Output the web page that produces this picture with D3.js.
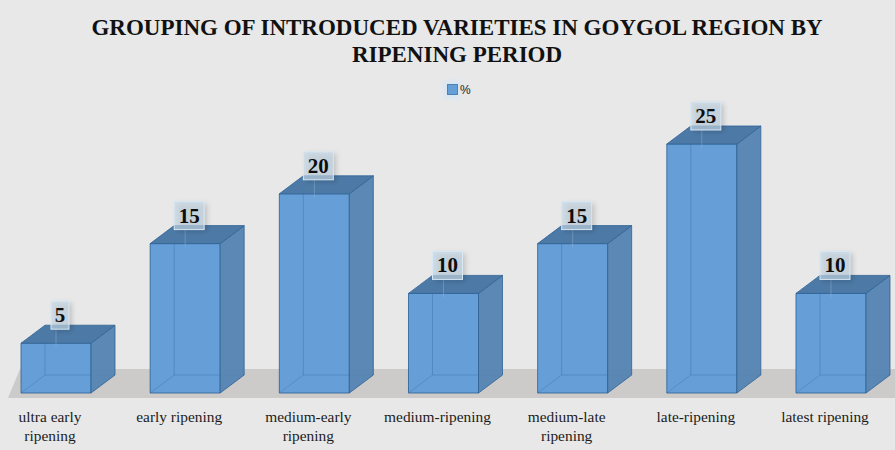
<!DOCTYPE html>
<html><head><meta charset="utf-8">
<script src="https://cdn.jsdelivr.net/npm/d3@7"></script>
<style>html,body{margin:0;padding:0;background:#e8e8e8}svg{display:block}text{font-family:"Liberation Serif",serif}</style>
</head><body><div id="c"></div>
<script>
const categories=["ultra early ripening","early ripening","medium-early ripening","medium-ripening","medium-late ripening","late-ripening","latest ripening"];
const labelLines=[["ultra early","ripening"],["early ripening"],["medium-early","ripening"],["medium-ripening"],["medium-late","ripening"],["late-ripening"],["latest ripening"]];
const values=[5,15,20,10,15,25,10];
const titleLines=["GROUPING OF INTRODUCED VARIETIES IN GOYGOL REGION BY","RIPENING PERIOD"];
const seriesName="%";

const W=895,H=450,dx=24,dy=18;
const svg=d3.select("#c").append("svg").attr("width",W).attr("height",H);
const defs=svg.append("defs");
const blur=defs.append("filter").attr("id","soft").attr("x","-40%").attr("y","-40%").attr("width","180%").attr("height","180%");
blur.append("feGaussianBlur").attr("stdDeviation",2.5);

svg.append("rect").attr("width",W).attr("height",H).attr("fill","#e8e8e8");

const x=d3.scaleBand().domain(categories).range([21,866]).paddingInner(0.458).paddingOuter(0).align(0);
const y=d3.scaleLinear().domain([0,25]).range([393,144]);
const y0=y(0);

// floor
svg.append("path").attr("d",d3.line()([[8,y0+5],[20,y0-24],[W,y0-24],[W,y0+5]])+"Z").attr("fill","#cdcaca");

const edge="#2f6496";
const bars=svg.append("g").selectAll("g").data(categories).join("g");
bars.each(function(c,i){
  const g=d3.select(this),l=x(c),r=l+x.bandwidth(),t=y(values[i]);
  const poly=(pts,fill,op,so)=>g.append("path").attr("d",d3.line()(pts)+"Z").attr("fill",fill).attr("fill-opacity",op)
     .attr("stroke",edge).attr("stroke-width",1).attr("stroke-opacity",so).attr("stroke-linejoin","round");
  // solid body first so the floor does not show through the front
  poly([[l,t],[r,t],[r,y0],[l,y0]],"#669fd7",1,0);
  // back edges, seen through the front face
  g.append("path").attr("d",d3.line()([[l+dx,Math.min(t,t-dy+2)],[l+dx,y0-dy],[r+dx,y0-dy]])).attr("fill","none")
    .attr("stroke",edge).attr("stroke-opacity",.35);
  g.append("path").attr("d",d3.line()([[l,y0],[l+dx,y0-dy]])).attr("fill","none").attr("stroke",edge).attr("stroke-opacity",.3);
  // visible faces
  poly([[l,t],[r,t],[r,y0],[l,y0]],"none",0,.85);
  poly([[r,t],[r+dx,t-dy],[r+dx,y0-dy],[r,y0]],"#5684b3",.97,.8);
  poly([[l,t],[l+dx,t-dy],[r+dx,t-dy],[r,t]],"#4c79a6",1,.8);
  // value stem
  g.append("line").attr("x1",l+dx+11).attr("x2",l+dx+11).attr("y1",t-14).attr("y2",t+4)
    .attr("stroke","#8fb0cf").attr("stroke-opacity",.5);
  // value label
  const s=String(values[i]),bw=s.length>1?30:18,cx=(l+r)/2+4;
  g.append("rect").attr("x",cx-bw/2+3).attr("y",t-40).attr("width",bw).attr("height",28)
    .attr("fill","#000").attr("fill-opacity",.16).attr("filter","url(#soft)");
  g.append("rect").attr("x",cx-bw/2).attr("y",t-42).attr("width",bw).attr("height",28)
    .attr("fill","#c6d8e7").attr("fill-opacity",.68).attr("stroke","#d8e8f4").attr("stroke-width",1);
  g.append("text").attr("x",cx).attr("y",t-21).attr("text-anchor","middle")
    .attr("font-size",21).attr("font-weight","bold").attr("fill","#0d0d0d").text(s);
});

// category axis
const axis=svg.append("g").attr("transform",`translate(0,${y0})`).call(d3.axisBottom(x).tickSize(0).tickFormat(""));
axis.select(".domain").remove();
axis.selectAll(".tick").each(function(c,i){
  const t=d3.select(this).select("text").text(null).attr("fill","#1c1c1c").attr("font-size",15.4)
    .attr("text-anchor","middle").attr("y",0).attr("dy",null);
  labelLines[i].forEach((ln,k)=>t.append("tspan").attr("x",-6).attr("y",29+k*19).text(ln));
});

// title
svg.append("text").attr("x",457).attr("text-anchor","middle").attr("font-weight","bold")
  .attr("font-size",23).attr("fill","#111")
  .selectAll("tspan").data(titleLines).join("tspan").attr("x",457).attr("y",(d,i)=>35+i*27).text(d=>d);

// legend
svg.append("rect").attr("x",444).attr("y",81).attr("width",16).attr("height",17).attr("fill","#d5e6f5").attr("filter","url(#soft)");
svg.append("rect").attr("x",447.5).attr("y",84.5).attr("width",10).attr("height",10).attr("fill","#659fd7").attr("stroke",edge).attr("stroke-opacity",.7);
svg.append("text").attr("x",460).attr("y",94).attr("font-size",12).attr("fill","#222").style("font-family","'Liberation Sans',sans-serif").text(seriesName);
</script></body></html>
